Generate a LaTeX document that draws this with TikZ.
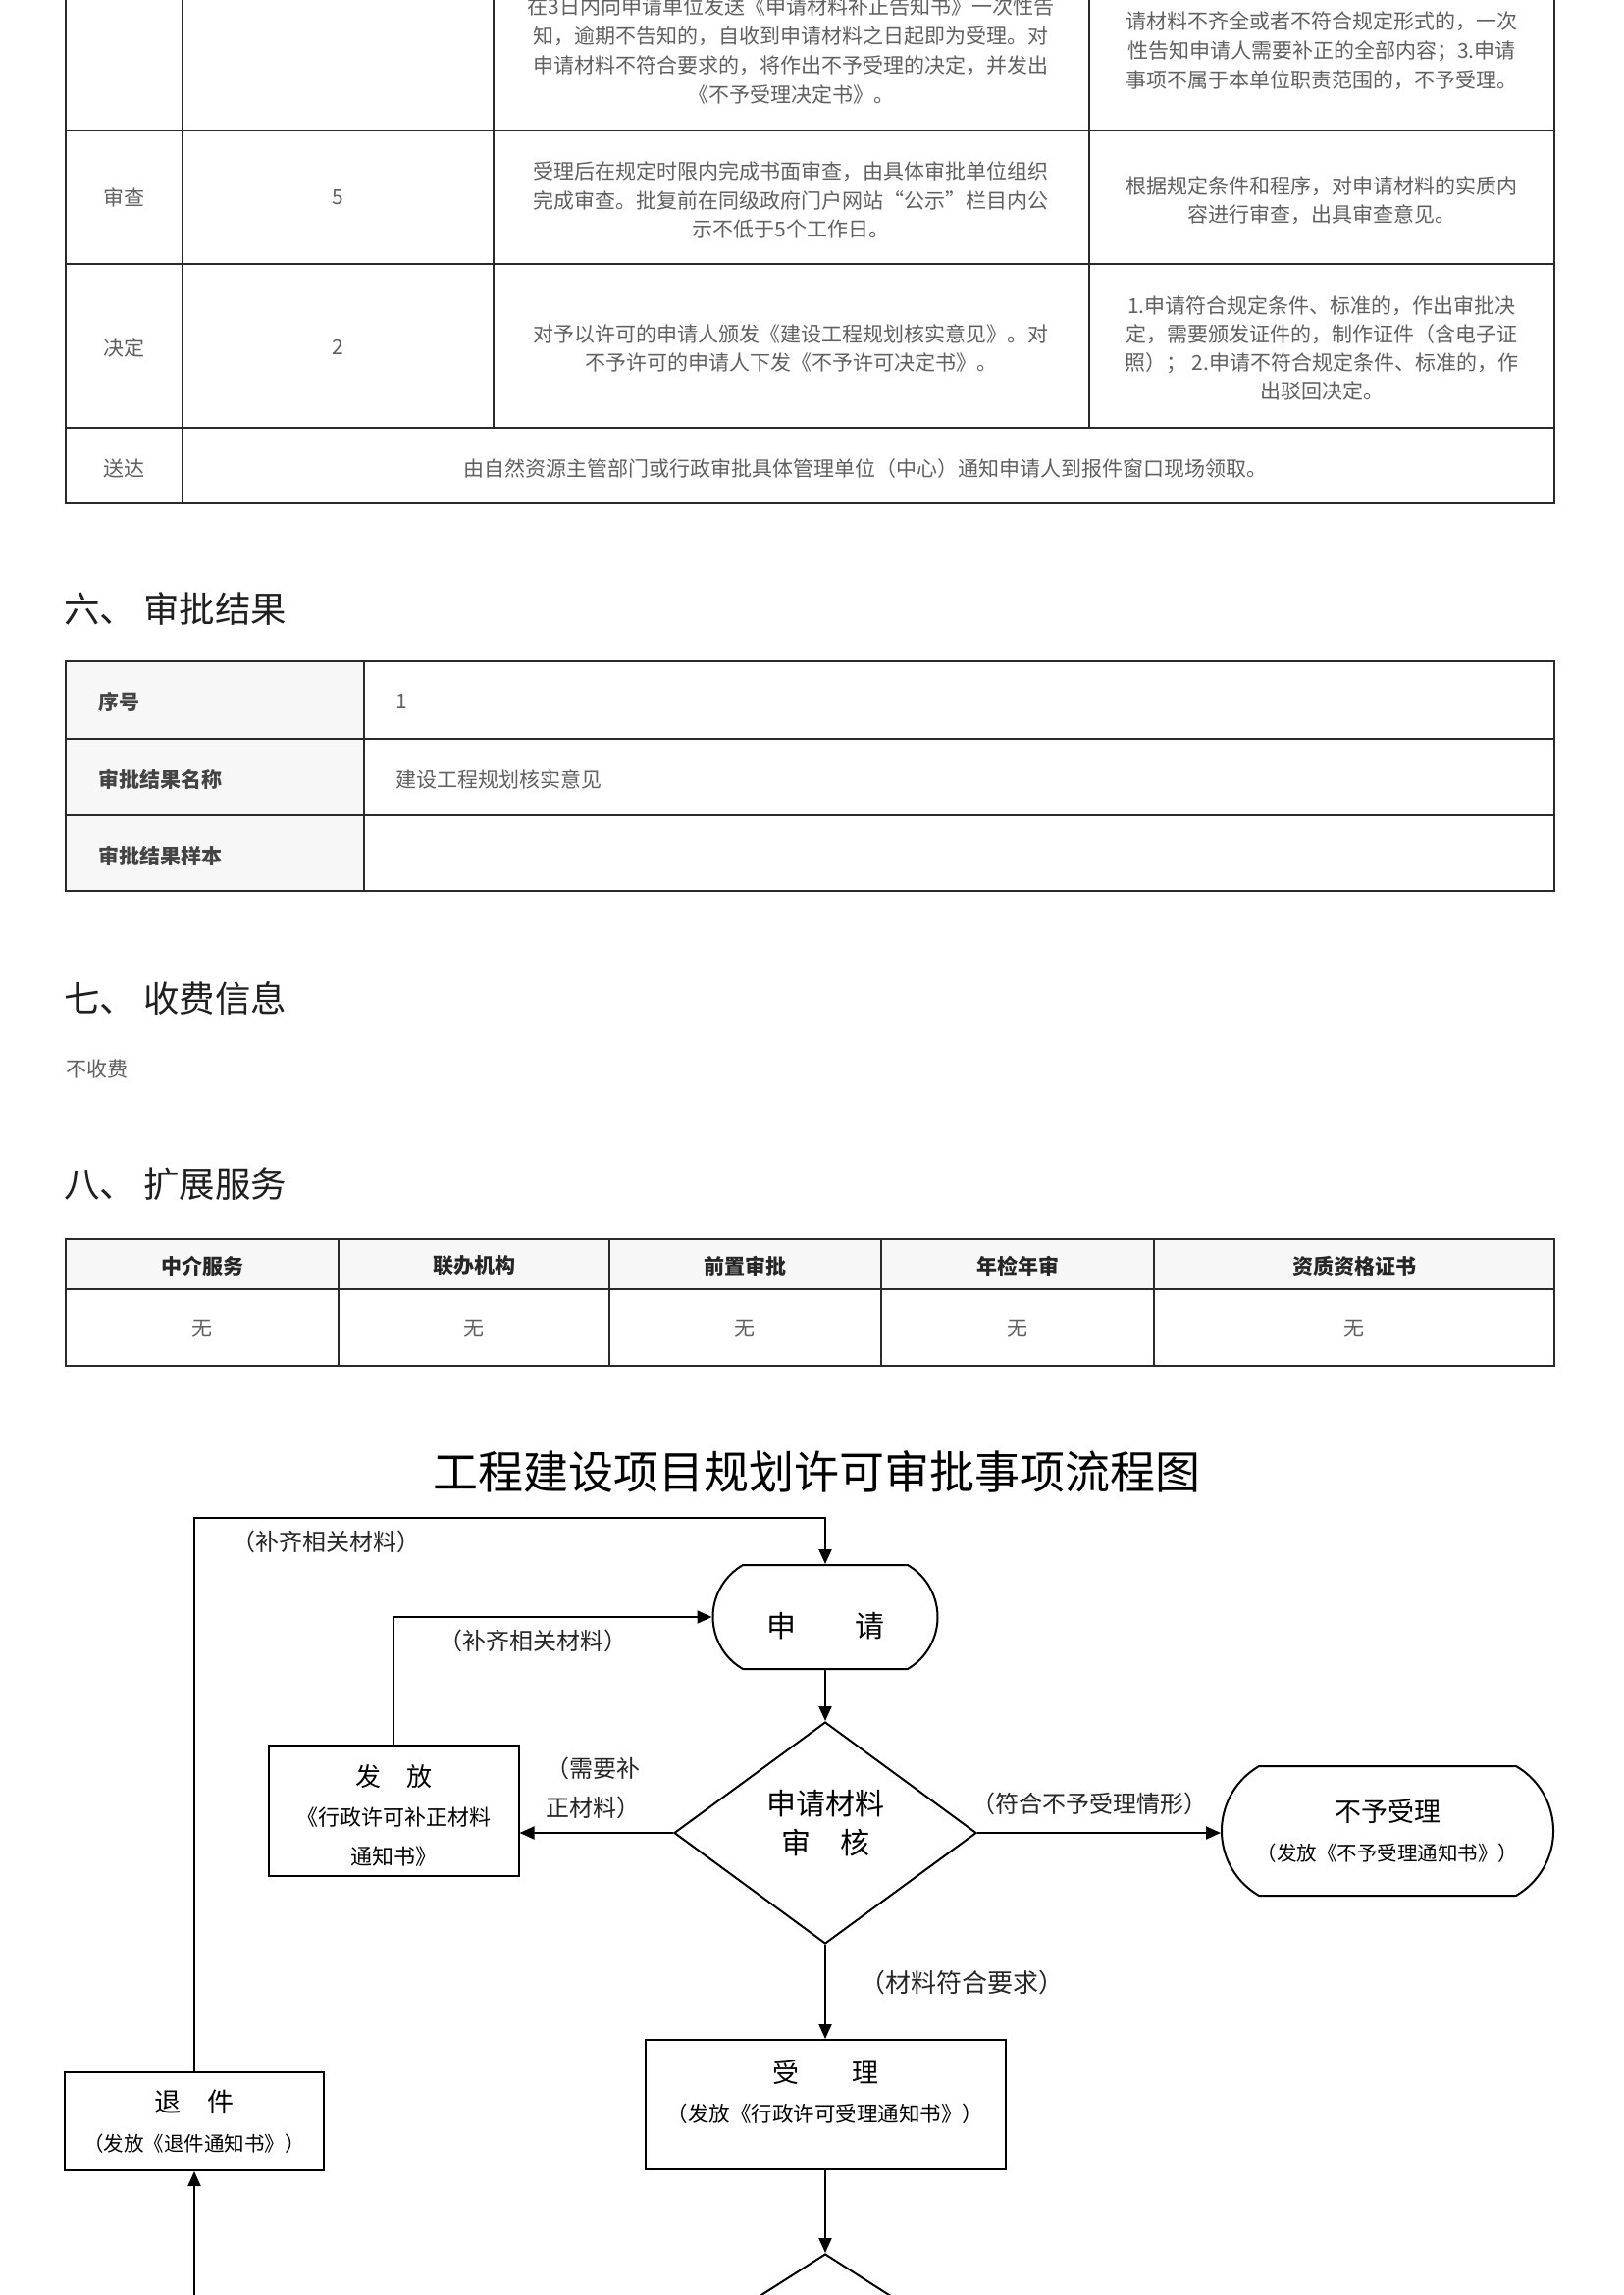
\documentclass[tikz,border=0pt]{standalone}
\usepackage{fontspec}
\setmainfont{Noto Sans CJK SC}
\usetikzlibrary{shapes.geometric,shapes.misc,arrows.meta}
\definecolor{txtgray}{HTML}{606060}
\definecolor{labgray}{HTML}{444444}
\definecolor{rulegray}{HTML}{2A2A2A}
\definecolor{headfill}{HTML}{F7F7F7}

\begin{document}
\begin{tikzpicture}[x=1pt,y=-1pt,>={Triangle[length=15pt,width=13pt]},
  tblrule/.style={draw=rulegray,line width=2.5pt},
  cell/.style={font=\fontsize{21}{29.5}\selectfont,text=txtgray,align=center,inner sep=0pt},
  hcell/.style={font=\bfseries\fontsize{21}{26}\selectfont,text=labgray,inner sep=0pt},
  heading/.style={font=\fontsize{36.5}{40}\selectfont,text=black!88,anchor=west,inner sep=0pt},
  flow/.style={draw,line width=2pt,align=center,inner sep=0pt,font=\fontsize{22}{40}\selectfont},
  proc/.style={flow,rectangle},
  term/.style={flow,rounded rectangle,rounded rectangle arc length=120},
  decide/.style={flow,diamond},
  flowtxt/.style={inner sep=0pt,align=center,font=\fontsize{22}{40}\selectfont},
  note/.style={font=\fontsize{24}{40}\selectfont,inner sep=0pt,text=black!85},
  conn/.style={->,line width=2pt}]
\useasboundingbox (0,0) rectangle (1654,2339);
\clip (0,0) rectangle (1654,2339);
\fill[white] (0,0) rectangle (1654,2339);
% top table (continued from previous page)
\draw[tblrule] (67,-5) -- (67,513) -- (1584,513) -- (1584,-5);
\draw[tblrule] (186,-5) -- (186,513);
\foreach \x in {503,1110} \draw[tblrule] (\x,-5) -- (\x,436);
\foreach \y in {133,269,436} \draw[tblrule] (67,\y) -- (1584,\y);
\node[cell,font=\fontsize{21}{30}\selectfont] (accText) at (806,52)
  {在3日内向申请单位发送《申请材料补正告知书》一次性告\\知，逾期不告知的，自收到申请材料之日起即为受理。对\\申请材料不符合要求的，将作出不予受理的决定，并发出\\《不予受理决定书》。};
\node[cell,font=\fontsize{21}{30}\selectfont] (accCond) at (1347,52)
  {请材料不齐全或者不符合规定形式的，一次\\性告知申请人需要补正的全部内容；3.申请\\事项不属于本单位职责范围的，不予受理。};
\node[cell] (revStep) at (126,201) {审查};
\node[cell] (revDays) at (344,201) {5};
\node[cell] (revText) at (806,204)
  {受理后在规定时限内完成书面审查，由具体审批单位组织\\完成审查。批复前在同级政府门户网站“公示”栏目内公\\示不低于5个工作日。};
\node[cell] (revCond) at (1347,204) {根据规定条件和程序，对申请材料的实质内\\容进行审查，出具审查意见。};
\node[cell] (decStep) at (126,354) {决定};
\node[cell] (decDays) at (344,354) {2};
\node[cell,font=\fontsize{21}{28.5}\selectfont] (decText) at (806,355)
  {对予以许可的申请人颁发《建设工程规划核实意见》。对\\不予许可的申请人下发《不予许可决定书》。};
\node[cell,font=\fontsize{21}{29}\selectfont] (decCond) at (1347,355)
  {1.申请符合规定条件、标准的，作出审批决\\定，需要颁发证件的，制作证件（含电子证\\照）； 2.申请不符合规定条件、标准的，作\\出驳回决定。};
\node[cell] (delStep) at (126,478) {送达};
\node[cell] (delText) at (882,478) {由自然资源主管部门或行政审批具体管理单位（中心）通知申请人到报件窗口现场领取。};
% six: approval result
\node[heading] (secSix) at (65,620) {六、 审批结果};
\fill[headfill] (67,674) rectangle (371,908);
\draw[tblrule] (67,674) rectangle (1584,908);
\draw[tblrule] (67,753) -- (1584,753) (67,831) -- (1584,831) (371,674) -- (371,908);
\node[hcell,anchor=west] (resNoLab) at (100,715) {序号};
\node[hcell,anchor=west] (resNameLab) at (100,794) {审批结果名称};
\node[hcell,anchor=west] (resSampleLab) at (100,872) {审批结果样本};
\node[cell,anchor=west] (resNo) at (403,715) {1};
\node[cell,anchor=west] (resName) at (403,794) {建设工程规划核实意见};
% seven: fees
\node[heading] (secSeven) at (65,1017) {七、 收费信息};
\node[cell,anchor=west] (fee) at (67,1090) {不收费};
% eight: extended services
\node[heading] (secEight) at (65,1207) {八、 扩展服务};
\fill[headfill] (67,1263) rectangle (1584,1314);
\draw[tblrule] (67,1263) rectangle (1584,1392);
\draw[tblrule] (67,1314) -- (1584,1314);
\foreach \x in {345,621,898,1176} \draw[tblrule] (\x,1263) -- (\x,1392);
\foreach \x/\t [count=\i] in {206/中介服务,483/联办机构,759/前置审批,1037/年检年审,1380/资质资格证书} {
  \node[hcell,text=black!85] (extHead\i) at (\x,1290) {\t};
  \node[cell] (extVal\i) at (\x,1354) {无};
}
% flow chart
\node[inner sep=0pt,font=\fontsize{46}{50}\selectfont] (title) at (832,1500) {工程建设项目规划许可审批事项流程图};
\node[term,minimum width=229pt,minimum height=106pt] (apply) at (841,1648) {};
\node[flowtxt,font=\fontsize{30}{36}\selectfont] (applyTxt) at (841,1657) {申　　请};
\node[decide,minimum width=308pt,minimum height=226pt] (check) at (841,1868) {};
\node[flowtxt,font=\fontsize{30}{40}\selectfont] (checkTxt) at (841,1858) {申请材料\\审　核};
\node[proc,minimum width=255pt,minimum height=133pt] (notice) at (401,1845) {};
\node[flowtxt] (noticeTxt) at (401,1850)
  {{\fontsize{26}{40}\selectfont 发　放}\\《行政许可补正材料\\通知书》};
\node[term,minimum width=338pt,minimum height=132pt] (reject) at (1414,1866)
  {{\fontsize{27}{40}\selectfont 不予受理}\\{\fontsize{20.5}{40}\selectfont （发放《不予受理通知书》）}};
\node[proc,minimum width=367pt,minimum height=132pt] (accept) at (841,2145) {};
\node[flowtxt,font=\fontsize{21.5}{40}\selectfont] (acceptTxt) at (841,2132)
  {{\fontsize{27}{40}\selectfont 受　　理}\\（发放《行政许可受理通知书》）};
\node[proc,minimum width=264pt,minimum height=100pt] (withdraw) at (198,2162)
  {{\fontsize{27}{42}\selectfont 退　件}\\{\fontsize{20.5}{42}\selectfont （发放《退件通知书》）}};
\node[decide,minimum width=344pt,minimum height=220pt] (review) at (841,2407) {};
% connectors
\coordinate (loopTop) at (841,1547);
\coordinate (fromReview) at (198,2350);
\draw[conn] (withdraw.north) |- (loopTop) -- (apply.north);
\draw[conn] (notice.north) |- (apply.west);
\draw[conn] (apply.south) -- (check.north);
\draw[conn] (check.west) -- (check.west -| notice.east);
\draw[conn] (check.east) -- (check.east -| reject.west);
\draw[conn] (check.south) -- (accept.north);
\draw[conn] (accept.south) -- (review.north);
\draw[conn] (fromReview) -- (withdraw.south);
% connector labels
\node[note] (lblTop) at (332,1571) {（补齐相关材料）};
\node[note] (lblMid) at (543,1672) {（补齐相关材料）};
\node[note,align=left,anchor=west] (lblFix) at (556,1822) {（需要补\\正材料）};
\node[note] (lblReject) at (1110,1838) {（符合不予受理情形）};
\node[note,font=\fontsize{26}{30}\selectfont] (lblOk) at (980,2021) {（材料符合要求）};
\end{tikzpicture}
\end{document}
